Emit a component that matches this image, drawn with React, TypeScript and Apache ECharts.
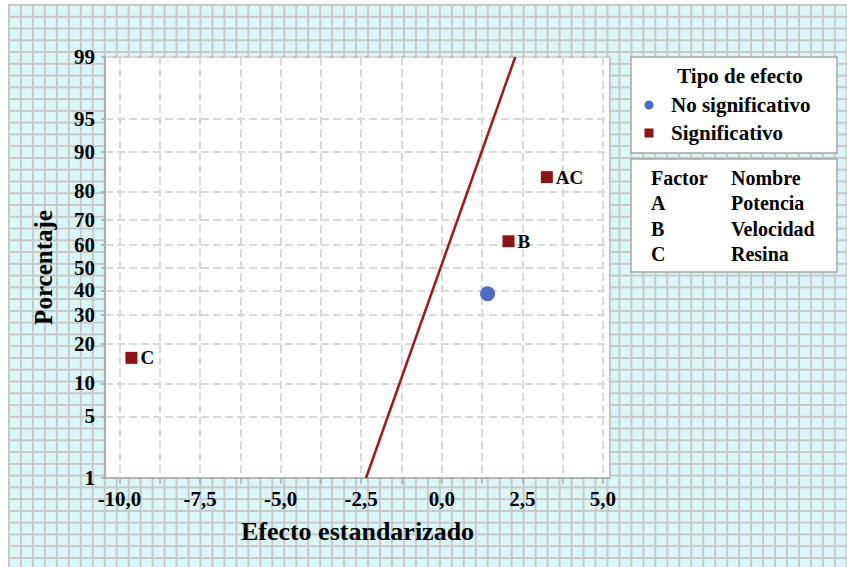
import React, { useEffect, useRef } from 'react';
import * as echarts from 'echarts';

// ---- data ----
const effectNames = ['C', 'A', 'B', 'AC'];
const effectValues = [-9.63, 1.42, 2.07, 3.26];
const effectPercents = [15.9, 38.6, 61.4, 84.1];
const effectSignificant = [true, false, true, true];

const lineEffects = [-2.35, 2.28];
const linePercents = [1, 99];

const yTickPercents = [1, 5, 10, 20, 30, 40, 50, 60, 70, 80, 90, 95, 99];
const xTickValues = [-10, -8.75, -7.5, -6.25, -5, -3.75, -2.5, -1.25, 0, 1.25, 2.5, 3.75, 5];
const xLabelValues = [-10, -7.5, -5, -2.5, 0, 2.5, 5];

const legendTitle = 'Tipo de efecto';
const legendLabels = ['No significativo', 'Significativo'];
const factorHeader = ['Factor', 'Nombre'];
const factorCodes = ['A', 'B', 'C'];
const factorNames = ['Potencia', 'Velocidad', 'Resina'];

// inverse standard normal CDF (Acklam) – the probability scale of the y axis
function normInv(p: number): number {
  const a = [-3.969683028665376e1, 2.209460984245205e2, -2.759285104469687e2, 1.38357751867269e2, -3.066479806614716e1, 2.506628277459239];
  const b = [-5.447609879822406e1, 1.615858368580409e2, -1.556989798598866e2, 6.680131188771972e1, -1.328068155288572e1];
  const c = [-7.784894002430293e-3, -3.223964580411365e-1, -2.400758277161838, -2.549732539343734, 4.374664141464968, 2.938163982698783];
  const d = [7.784695709041462e-3, 3.224671290700398e-1, 2.445134137142996, 3.754408661907416];
  const plow = 0.02425;
  const phigh = 1 - plow;
  if (p < plow) {
    const q = Math.sqrt(-2 * Math.log(p));
    return (((((c[0] * q + c[1]) * q + c[2]) * q + c[3]) * q + c[4]) * q + c[5]) /
      ((((d[0] * q + d[1]) * q + d[2]) * q + d[3]) * q + 1);
  }
  if (p <= phigh) {
    const q = p - 0.5;
    const r = q * q;
    return ((((((a[0] * r + a[1]) * r + a[2]) * r + a[3]) * r + a[4]) * r + a[5]) * q) /
      (((((b[0] * r + b[1]) * r + b[2]) * r + b[3]) * r + b[4]) * r + 1);
  }
  const q = Math.sqrt(-2 * Math.log(1 - p));
  return -(((((c[0] * q + c[1]) * q + c[2]) * q + c[3]) * q + c[4]) * q + c[5]) /
    ((((d[0] * q + d[1]) * q + d[2]) * q + d[3]) * q + 1);
}

const FONT = "'Liberation Serif', 'Times New Roman', serif";
const RED = '#8c1414';
const BLUE = '#4a6cc6';

export default function App() {
  const ref = useRef<HTMLDivElement>(null);

  useEffect(() => {
    if (!ref.current) return;
    const chart = echarts.init(ref.current, undefined, { renderer: 'svg' });

    const z = (pct: number) => normInv(pct / 100);
    const yTickZ = yTickPercents.map(z);
    const zMin = z(yTickPercents[0]);
    const zMax = z(yTickPercents[yTickPercents.length - 1]);

    const sigData: any[] = [];
    const nonSigData: any[] = [];
    effectNames.forEach((n, i) => {
      const pt = [effectValues[i], z(effectPercents[i]), n];
      (effectSignificant[i] ? sigData : nonSigData).push(pt);
    });
    const lineData = lineEffects.map((v, i) => [v, z(linePercents[i])]);

    const axisGray = '#a8a8a8';
    const splitStyle = { color: '#d9d9d9', width: 2, type: [8, 4] as any };
    const tickLabelStyle = { fontFamily: FONT, fontWeight: 'bold' as const, fontSize: 21, color: '#000' };

    const legendTextStyle = { fontFamily: FONT, fontWeight: 'bold', fontSize: 21, fill: '#000' };
    const factorTextStyle = { fontFamily: FONT, fontWeight: 'bold', fontSize: 20, fill: '#000' };

    const graphic: any[] = [
      { type: 'rect', shape: { x: 631, y: 57, width: 206, height: 96 }, style: { fill: '#fff', stroke: '#a8a8a8', lineWidth: 1.5 } },
      { type: 'rect', shape: { x: 631, y: 159, width: 206, height: 113 }, style: { fill: '#fff', stroke: '#a8a8a8', lineWidth: 1.5 } },
      { type: 'text', x: 740, y: 76, style: { ...legendTextStyle, text: legendTitle, align: 'center', verticalAlign: 'middle' } },
      { type: 'circle', shape: { cx: 649, cy: 105, r: 4.5 }, style: { fill: BLUE } },
      { type: 'text', x: 671, y: 105, style: { ...legendTextStyle, text: legendLabels[0], align: 'left', verticalAlign: 'middle' } },
      { type: 'rect', shape: { x: 644.5, y: 128.5, width: 9, height: 9 }, style: { fill: RED } },
      { type: 'text', x: 671, y: 133, style: { ...legendTextStyle, text: legendLabels[1], align: 'left', verticalAlign: 'middle' } },
      { type: 'text', x: 651, y: 178, style: { ...factorTextStyle, text: factorHeader[0], align: 'left', verticalAlign: 'middle' } },
      { type: 'text', x: 731, y: 178, style: { ...factorTextStyle, text: factorHeader[1], align: 'left', verticalAlign: 'middle' } },
    ];
    factorCodes.forEach((code, i) => {
      const y = 203 + i * 25.5;
      graphic.push({ type: 'text', x: 651, y, style: { ...factorTextStyle, text: code, align: 'left', verticalAlign: 'middle' } });
      graphic.push({ type: 'text', x: 731, y, style: { ...factorTextStyle, text: factorNames[i], align: 'left', verticalAlign: 'middle' } });
    });

    chart.setOption({
      animation: false,
      grid: {
        left: 105, top: 57, width: 505, height: 421,
        show: true, backgroundColor: '#fff', borderColor: '#b4b4b4', borderWidth: 1.5,
      },
      xAxis: {
        type: 'value',
        min: -10.45,
        max: 5.22,
        name: 'Efecto estandarizado',
        nameLocation: 'middle',
        nameGap: 40,
        nameTextStyle: { fontFamily: FONT, fontWeight: 'bold', fontSize: 26, color: '#000' },
        axisLine: { show: true, onZero: false, lineStyle: { color: axisGray, width: 1.5 } },
        axisTick: { show: true, customValues: xTickValues, length: 6, lineStyle: { color: axisGray, width: 1.5 } },
        axisLabel: {
          customValues: xLabelValues,
          margin: 10,
          ...tickLabelStyle,
          formatter: (v: number) => v.toFixed(1).replace('.', ','),
        },
        splitLine: { show: true, lineStyle: splitStyle },
      },
      yAxis: {
        type: 'value',
        min: zMin,
        max: zMax,
        name: 'Porcentaje',
        nameLocation: 'middle',
        nameGap: 49,
        nameTextStyle: { fontFamily: FONT, fontWeight: 'bold', fontSize: 25, color: '#000' },
        axisLine: { show: true, onZero: false, lineStyle: { color: axisGray, width: 1.5 } },
        axisTick: { show: true, customValues: yTickZ, length: 4, lineStyle: { color: axisGray, width: 1.5 } },
        axisLabel: {
          customValues: yTickZ,
          margin: 10,
          ...tickLabelStyle,
          formatter: (v: number) => {
            let best = 0;
            yTickZ.forEach((t, i) => { if (Math.abs(t - v) < Math.abs(yTickZ[best] - v)) best = i; });
            return String(yTickPercents[best]);
          },
        },
        splitLine: { show: true, lineStyle: splitStyle },
      },
      series: [
        {
          type: 'line',
          data: lineData,
          symbol: 'none',
          lineStyle: { color: '#a01818', width: 2.5 },
          z: 3,
        },
        {
          name: legendLabels[0],
          type: 'scatter',
          data: nonSigData,
          symbol: 'circle',
          symbolSize: 15,
          itemStyle: { color: BLUE, opacity: 1 },
          z: 4,
        },
        {
          name: legendLabels[1],
          type: 'scatter',
          data: sigData,
          symbol: 'rect',
          symbolSize: 12,
          itemStyle: { color: RED, opacity: 1 },
          label: {
            show: true,
            position: 'right',
            distance: 3,
            formatter: (p: any) => p.data[2],
            fontFamily: FONT,
            fontWeight: 'bold',
            fontSize: 19,
            color: '#000',
          },
          z: 4,
        },
      ],
      graphic,
    });

    return () => chart.dispose();
  }, []);

  return (
    <div style={{ position: 'absolute', left: 0, top: 0, width: 847, height: 567, background: '#fff', overflow: 'hidden' }}>
      <div
        style={{
          position: 'absolute', left: 8, top: 4, right: 0, bottom: 0,
          backgroundColor: '#daf7f7',
          backgroundImage:
            'linear-gradient(to right, #c8c8c8 2px, transparent 2px), linear-gradient(to bottom, #c8c8c8 2px, transparent 2px)',
          backgroundSize: '11.97px 11.78px',
        }}
      />
      <div ref={ref} style={{ position: 'absolute', left: 0, top: 0, width: 847, height: 567 }} />
    </div>
  );
}
